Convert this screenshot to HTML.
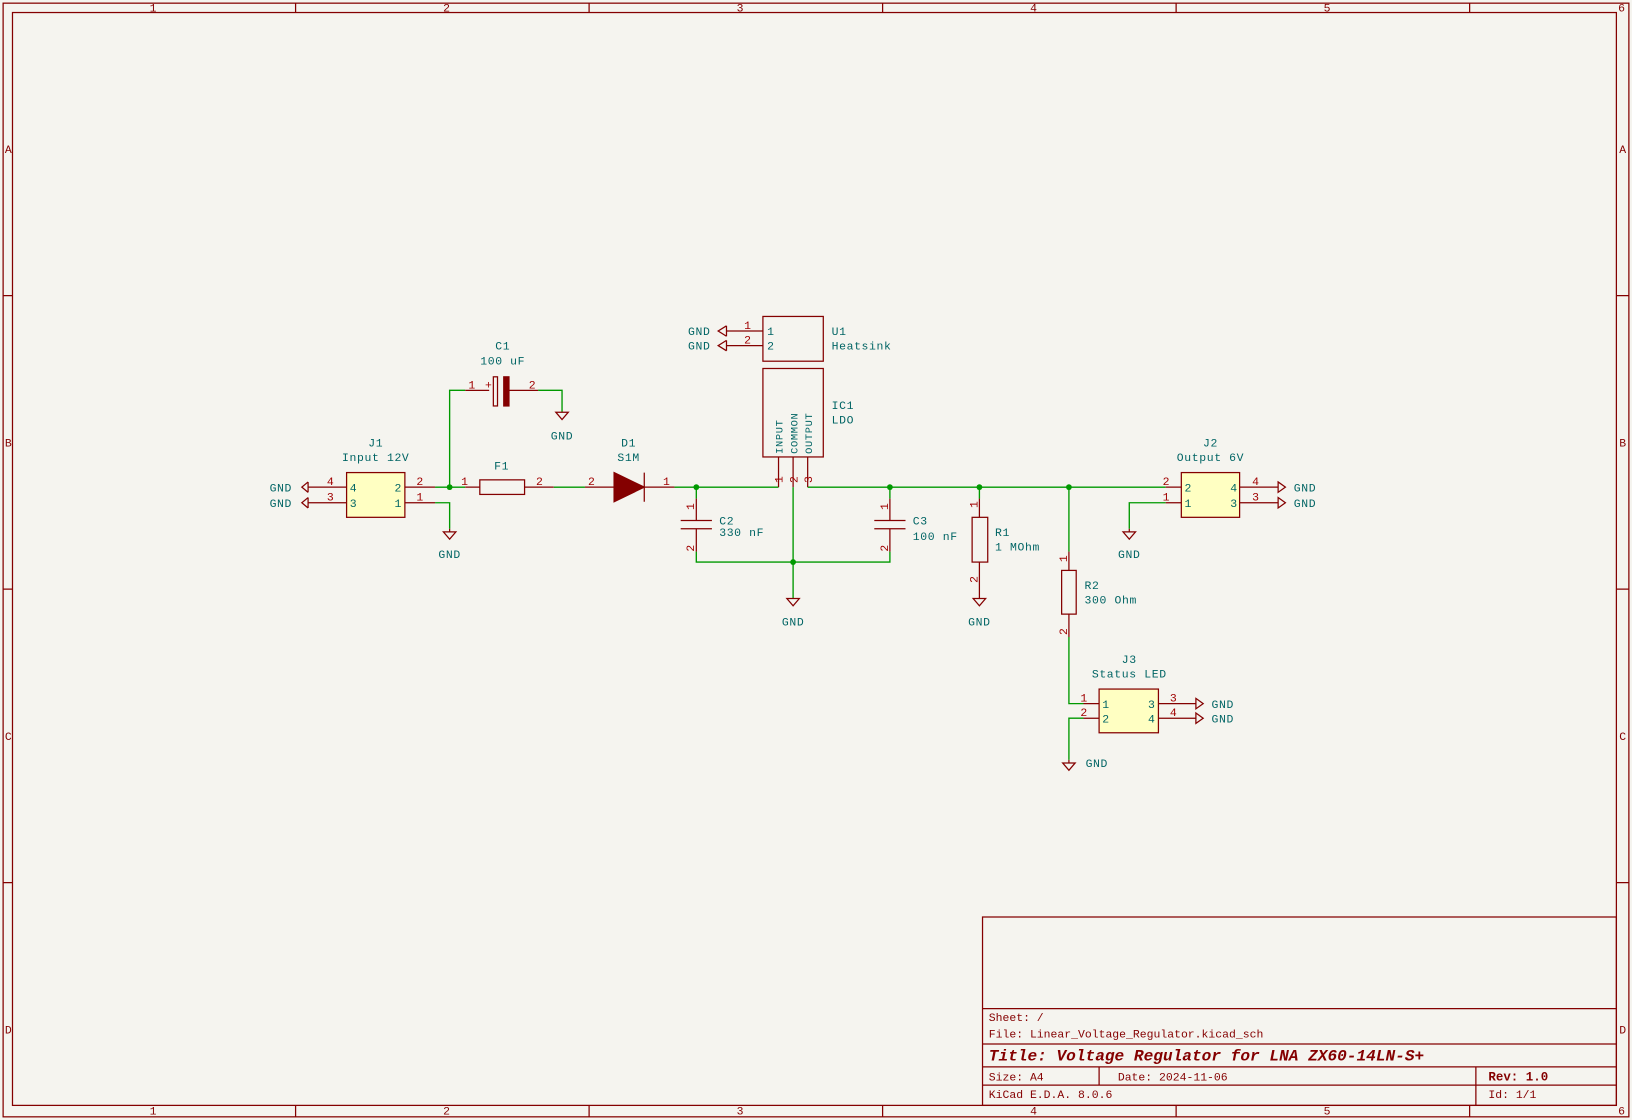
<!DOCTYPE html>
<html><head><meta charset="utf-8"><style>
html,body{margin:0;padding:0;background:#f5f4ef;}
svg{display:block;}
text{font-family:"Liberation Mono","DejaVu Sans Mono",monospace;}
.t{fill:#006464;font-size:11px;letter-spacing:0.6px;}
.p{fill:#a00000;font-size:11px;}
.b{fill:#840000;font-size:11px;}
</style></head><body>
<svg width="1632" height="1120" viewBox="0 0 1568 1076" xmlns="http://www.w3.org/2000/svg">
<rect x="0" y="0" width="1568" height="1076" fill="#f5f4ef"/>
<g fill="none" stroke="#840000" stroke-width="1.2">
<rect x="3" y="3" width="1562" height="1070"/>
<rect x="12" y="12" width="1541" height="1050"/>
<path d="M284 3V12M566 3V12M848 3V12M1130 3V12M1412 3V12M284 1062V1073M566 1062V1073M848 1062V1073M1130 1062V1073M1412 1062V1073M3 284H12M3 566H12M3 848H12M1553 284H1565M1553 566H1565M1553 848H1565"/>
</g>
<g class="b" text-anchor="middle" font-size="10">
<text x="147" y="11">1</text><text x="429" y="11">2</text><text x="711" y="11">3</text><text x="993" y="11">4</text><text x="1275" y="11">5</text><text x="1558" y="11">6</text>
<text x="147" y="1071">1</text><text x="429" y="1071">2</text><text x="711" y="1071">3</text><text x="993" y="1071">4</text><text x="1275" y="1071">5</text><text x="1558" y="1071">6</text>
<text x="8" y="147">A</text><text x="8" y="429">B</text><text x="8" y="711">C</text><text x="8" y="993">D</text>
<text x="1559" y="147">A</text><text x="1559" y="429">B</text><text x="1559" y="711">C</text><text x="1559" y="993">D</text>
</g>
<g fill="none" stroke="#840000" stroke-width="1.2">
<rect x="944" y="881" width="609" height="181"/>
<path d="M944 969H1553M944 1003H1553M944 1025H1553M944 1042.5H1553M1418 1025V1062M1056 1025V1042.5"/>
</g>
<g class="b" font-size="11">
<text x="950" y="981">Sheet: /</text>
<text x="950" y="997">File: Linear_Voltage_Regulator.kicad_sch</text>
<text x="950" y="1019" font-size="15.5" font-weight="bold" font-style="italic">Title: Voltage Regulator for LNA ZX60-14LN-S+</text>
<text x="950" y="1038">Size: A4</text>
<text x="1074" y="1038">Date: 2024-11-06</text>
<text x="1430" y="1038" font-weight="bold" font-size="12">Rev: 1.0</text>
<text x="950" y="1055">KiCad E.D.A. 8.0.6</text>
<text x="1430" y="1055">Id: 1/1</text>
</g>
<g fill="none" stroke="#009900" stroke-width="1.3">
<path d="M418 468H447M432 468V375H447M517 375H540V396M418 483H432V508"/>
<path d="M532 468H562M648 468H748M776 468H1120M669 468V479M669 530V540H855V530M855 479V468M762 468V575M941 468V479M1027 468V530M1027 612V676H1041M1041 690H1027V730M1120 483H1085V508"/>
</g>
<g fill="#009900">
<circle cx="432" cy="468" r="2.8"/><circle cx="669" cy="468" r="2.8"/><circle cx="855" cy="468" r="2.8"/><circle cx="941" cy="468" r="2.8"/><circle cx="1027" cy="468" r="2.8"/><circle cx="762" cy="540" r="2.8"/>
</g>
<g fill="none" stroke="#840000" stroke-width="1.2">
<rect x="333" y="454" width="56" height="43" fill="#ffffc2"/>
<path d="M296 468H333M296 483H333M389 468H418M389 483H418"/>
<path d="M296 463L290 468L296 473M296 478L290 483L296 488M296 463V473M296 478V488"/>
<path d="M447 375H470M489 375H517"/>
<rect x="474" y="362" width="4" height="28"/>
<rect x="484" y="362" width="5" height="28" fill="#840000"/>
<path d="M534 396H546L540 403Z"/>
<path d="M426 511H438L432 518Z"/>
<path d="M756 575H768L762 582Z"/>
<path d="M935 575H947L941 582Z"/>
<path d="M1079 511H1091L1085 518Z"/>
<path d="M1021 733H1033L1027 740Z"/>
<path d="M432 508V511M1085 508V511M1027 730V733M941 540V575"/>
<path d="M447 468H461M504 468H532"/>
<rect x="461" y="461" width="43" height="14"/>
<path d="M562 468H590M619 468H648M619 454V482"/>
<path d="M590 454L619 468L590 482Z" fill="#840000"/>
<rect x="733" y="304" width="58" height="43"/>
<path d="M698 318H733M698 332H733M698 313L690 318L698 323M698 327L690 332L698 337M698 313V323M698 327V337"/>
<rect x="733" y="354" width="58" height="85"/>
<path d="M748 439V468M762 439V468M776 439V468"/>
<path d="M669 479V500M669 508V530M654 500H684M654 508H684"/>
<path d="M855 479V500M855 508V530M840 500H870M840 508H870"/>
<path d="M941 479V497"/>
<rect x="934" y="497" width="15" height="43"/>
<path d="M1027 530V548M1027 590V612"/>
<rect x="1020" y="548" width="14" height="42"/>
<rect x="1135" y="454" width="56" height="43" fill="#ffffc2"/>
<path d="M1120 468H1135M1120 483H1135M1191 468H1228M1191 483H1228M1228 463L1235 468L1228 473ZM1228 478L1235 483L1228 488Z"/>
<rect x="1056" y="662" width="57" height="42" fill="#ffffc2"/>
<path d="M1041 676H1056M1041 690H1056M1113 676H1149M1113 690H1149M1149 671L1156 676L1149 681ZM1149 685L1156 690L1149 695Z"/>
</g>
<g class="t">
<text x="361" y="429" text-anchor="middle">J1</text>
<text x="361" y="443" text-anchor="middle">Input 12V</text>
<text x="259" y="472">GND</text><text x="259" y="487">GND</text>
<text x="336" y="472">4</text><text x="336" y="487">3</text><text x="379" y="472">2</text><text x="379" y="487">1</text>
<text x="432" y="536" text-anchor="middle">GND</text>
<text x="483" y="336" text-anchor="middle">C1</text>
<text x="483" y="350" text-anchor="middle">100 uF</text>
<text x="540" y="422" text-anchor="middle">GND</text>
<text x="482" y="451" text-anchor="middle">F1</text>
<text x="604" y="429" text-anchor="middle">D1</text>
<text x="604" y="443" text-anchor="middle">S1M</text>
<text x="661" y="322">GND</text><text x="661" y="336">GND</text>
<text x="737" y="322">1</text><text x="737" y="336">2</text>
<text x="799" y="322">U1</text><text x="799" y="336">Heatsink</text>
<text x="799" y="393">IC1</text><text x="799" y="407">LDO</text>
<text transform="translate(752,436) rotate(-90)" font-size="10">INPUT</text>
<text transform="translate(766,436) rotate(-90)" font-size="10">COMMON</text>
<text transform="translate(780,436) rotate(-90)" font-size="10">OUTPUT</text>
<text x="691" y="504">C2</text><text x="691" y="515">330 nF</text>
<text x="877" y="504">C3</text><text x="877" y="519">100 nF</text>
<text x="762" y="601" text-anchor="middle">GND</text>
<text x="956" y="515">R1</text><text x="956" y="529">1 MOhm</text>
<text x="941" y="601" text-anchor="middle">GND</text>
<text x="1042" y="566">R2</text><text x="1042" y="580">300 Ohm</text>
<text x="1163" y="429" text-anchor="middle">J2</text>
<text x="1163" y="443" text-anchor="middle">Output 6V</text>
<text x="1138" y="472">2</text><text x="1138" y="487">1</text><text x="1182" y="472">4</text><text x="1182" y="487">3</text>
<text x="1243" y="472">GND</text><text x="1243" y="487">GND</text>
<text x="1085" y="536" text-anchor="middle">GND</text>
<text x="1085" y="637" text-anchor="middle">J3</text>
<text x="1085" y="651" text-anchor="middle">Status LED</text>
<text x="1059" y="680">1</text><text x="1059" y="694">2</text><text x="1103" y="680">3</text><text x="1103" y="694">4</text>
<text x="1164" y="680">GND</text><text x="1164" y="694">GND</text>
<text x="1043" y="737">GND</text>
</g>
<g class="p">
<text x="314" y="466">4</text><text x="314" y="481">3</text>
<text x="400" y="466">2</text><text x="400" y="481">1</text>
<text x="450" y="373">1</text><text x="466" y="373">+</text><text x="508" y="373">2</text>
<text x="443" y="466">1</text><text x="515" y="466">2</text>
<text x="565" y="466">2</text><text x="637" y="466">1</text>
<text x="715" y="316">1</text><text x="715" y="330">2</text>
<text x="1117" y="466">2</text><text x="1117" y="481">1</text><text x="1203" y="466">4</text><text x="1203" y="481">3</text>
<text x="1038" y="674">1</text><text x="1038" y="688">2</text><text x="1124" y="674">3</text><text x="1124" y="688">4</text>
<text transform="translate(752,464) rotate(-90)">1</text>
<text transform="translate(766,464) rotate(-90)">2</text>
<text transform="translate(780,464) rotate(-90)">3</text>
<text transform="translate(667,490) rotate(-90)">1</text>
<text transform="translate(667,530) rotate(-90)">2</text>
<text transform="translate(853,490) rotate(-90)">1</text>
<text transform="translate(853,530) rotate(-90)">2</text>
<text transform="translate(939,488) rotate(-90)">1</text>
<text transform="translate(939,560) rotate(-90)">2</text>
<text transform="translate(1025,540) rotate(-90)">1</text>
<text transform="translate(1025,610) rotate(-90)">2</text>
</g>
</svg>
</body></html>
